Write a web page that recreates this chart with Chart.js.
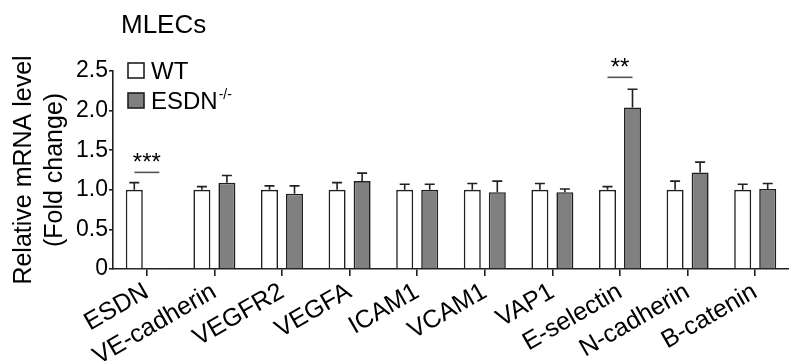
<!DOCTYPE html>
<html>
<head>
<meta charset="utf-8">
<script src="https://cdn.jsdelivr.net/npm/chart.js@4.4.0/dist/chart.umd.min.js"></script>
<style>
html, body { margin: 0; padding: 0; background: #fff; overflow: hidden; }
#wrap { width: 789px; height: 361px; position: relative; }
</style>
</head>
<body>
<div id="wrap"><canvas id="chart"></canvas></div>
<script>
// values
const genes = ['ESDN', 'VE-cadherin', 'VEGFR2', 'VEGFA', 'ICAM1', 'VCAM1', 'VAP1', 'E-selectin', 'N-cadherin', 'B-catenin'];
const wtMean = [1.0, 1.0, 1.0, 1.0, 1.0, 1.0, 1.0, 1.0, 1.0, 1.0];
const wtErr = [0.09, 0.04, 0.05, 0.09, 0.07, 0.08, 0.08, 0.04, 0.11, 0.07];
const koMean = [0.005, 1.09, 0.95, 1.11, 1.0, 0.97, 0.97, 2.04, 1.22, 1.01];
const koErr = [0, 0.09, 0.10, 0.10, 0.07, 0.14, 0.04, 0.23, 0.13, 0.07];
const sigIndex = [0, 7];
const sigText = ['***', '**'];
const sigLevel = [1.22, 2.42];
const yTicks = [0, 0.5, 1.0, 1.5, 2.0, 2.5];

const FONT = "'Liberation Sans', Arial, sans-serif";
const INK = '#231f20';

// error bars (upward only) and significance marks
const extras = {
  id: 'extras',
  afterDatasetsDraw(chart) {
    const ctx = chart.ctx;
    const y = chart.scales.y;
    const errs = [wtErr, koErr];
    const means = [wtMean, koMean];
    ctx.save();
    ctx.strokeStyle = INK;
    ctx.lineWidth = 1.6;
    for (let d = 0; d < 2; d++) {
      const meta = chart.getDatasetMeta(d);
      meta.data.forEach((bar, i) => {
        if (!errs[d][i]) return;
        const top = y.getPixelForValue(means[d][i] + errs[d][i]);
        ctx.beginPath();
        ctx.moveTo(bar.x, bar.y);
        ctx.lineTo(bar.x, top);
        ctx.moveTo(bar.x - 5, top);
        ctx.lineTo(bar.x + 5, top);
        ctx.stroke();
      });
    }
    // significance
    ctx.strokeStyle = '#555';
    ctx.fillStyle = '#000';
    ctx.font = '24px ' + FONT;
    ctx.textAlign = 'center';
    ctx.textBaseline = 'alphabetic';
    sigIndex.forEach((k, n) => {
      const x1 = chart.getDatasetMeta(0).data[k].x;
      const x2 = chart.getDatasetMeta(1).data[k].x;
      const ly = y.getPixelForValue(sigLevel[n]);
      ctx.beginPath();
      ctx.moveTo(x1, ly);
      ctx.lineTo(x2, ly);
      ctx.stroke();
      ctx.fillText(sigText[n], (x1 + x2) / 2, ly - 2);
    });
    ctx.restore();
  },
  afterDraw(chart) {
    const ctx = chart.ctx;
    ctx.save();
    ctx.fillStyle = '#000';
    ctx.textBaseline = 'alphabetic';
    ctx.textAlign = 'left';
    ctx.font = '26px ' + FONT;
    ctx.fillText('MLECs', 121, 33);

    // legend
    ctx.lineWidth = 1.6;
    ctx.strokeStyle = INK;
    ctx.fillStyle = '#fff';
    ctx.fillRect(128, 63, 16, 15);
    ctx.strokeRect(128, 63, 16, 15);
    ctx.fillStyle = '#808080';
    ctx.fillRect(128, 93, 16, 15);
    ctx.strokeRect(128, 93, 16, 15);
    ctx.fillStyle = '#000';
    ctx.font = '24px ' + FONT;
    ctx.fillText('WT', 151, 79);
    ctx.fillText('ESDN', 151, 109);
    const w = ctx.measureText('ESDN').width;
    ctx.font = '14px ' + FONT;
    ctx.fillText('-/-', 151 + w + 1, 99);
    ctx.restore();
  }
};

new Chart(document.getElementById('chart'), {
  type: 'bar',
  data: {
    labels: genes,
    datasets: [
      { label: 'WT', data: wtMean, backgroundColor: '#ffffff', borderColor: INK, borderWidth: 1.6 },
      { label: 'ESDN-/-', data: koMean, backgroundColor: '#808080', borderColor: INK, borderWidth: 1.6 }
    ]
  },
  options: {
    responsive: true,
    maintainAspectRatio: false,
    animation: false,
    layout: { padding: { top: 71, right: 0, left: 0, bottom: 0 } },
    datasets: { bar: { categoryPercentage: 0.74, barPercentage: 0.68 } },
    plugins: { legend: { display: false }, tooltip: { enabled: false } },
    scales: {
      x: {
        grid: { display: true, drawOnChartArea: false, offset: false, color: INK, lineWidth: 1.6, tickLength: 7 },
        border: { display: true, color: INK, width: 1.6 },
        ticks: {
          color: '#000', font: { family: FONT, size: 25 }, autoSkip: false,
          maxRotation: 30, minRotation: 30, padding: 1
        },
        afterFit(scale) { scale.height = 92; }
      },
      y: {
        min: 0, max: 2.5,
        afterBuildTicks(scale) { scale.ticks = yTicks.map(v => ({ value: v })); },
        grid: { display: true, drawOnChartArea: false, color: INK, lineWidth: 1.6, tickLength: 4 },
        border: { display: true, color: INK, width: 1.6 },
        ticks: {
          color: '#000', font: { family: FONT, size: 23 }, padding: 1,
          callback: v => v === 0 ? '0' : v.toFixed(1)
        },
        title: {
          display: true,
          text: ['Relative mRNA level', '(Fold change)'],
          color: '#000', font: { family: FONT, size: 25, lineHeight: 1.25 }, padding: { top: 8, bottom: 0 }
        },
        afterFit(scale) { scale.width = 113; }
      }
    }
  },
  plugins: [extras]
});
</script>
</body>
</html>
